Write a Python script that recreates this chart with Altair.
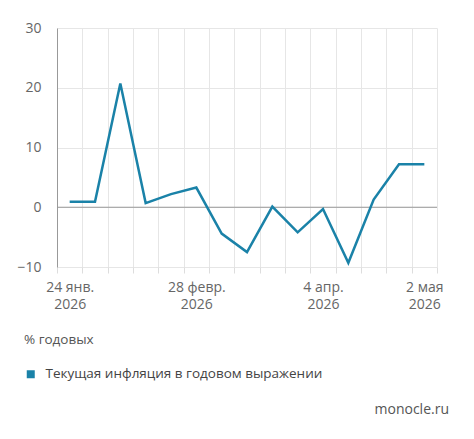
import altair as alt
import pandas as pd

dates = ["2026-01-24", "2026-01-31", "2026-02-07", "2026-02-14", "2026-02-21",
         "2026-02-28", "2026-03-07", "2026-03-14", "2026-03-21", "2026-03-28",
         "2026-04-04", "2026-04-11", "2026-04-18", "2026-04-25", "2026-05-02"]
values = [0.9, 0.9, 20.7, 0.7, 2.2, 3.3, -4.4, -7.5, 0.1, -4.2, -0.3, -9.3, 1.3, 7.2, 7.2]
label_dates = ["2026-01-24", "2026-02-28", "2026-04-04", "2026-05-02"]
label_texts = [["24 янв.", "2026"], ["28 февр.", "2026"], ["4 апр.", "2026"], ["2 мая", "2026"]]
y_ticks = [-10, 0, 10, 20, 30]
series_name = "Текущая инфляция в годовом выражении"
unit_text = "% годовых"
source_text = "monocle.ru"

df = pd.DataFrame({"date": dates, "value": values, "series": series_name})

expr = "''"
for d, t in zip(reversed(label_dates), reversed(label_texts)):
    expr = f"datum.value == '{d}' ? ['{t[0]}', '{t[1]}'] : ({expr})"

FONT = "Open Sans"
BLUE = "#1a82a8"

base = alt.Chart(df)

line = base.mark_line(strokeWidth=2.5).encode(
    x=alt.X("date:O", sort=dates, title=None,
            scale=alt.Scale(paddingInner=0, paddingOuter=0),
            axis=alt.Axis(tickBand="extent", grid=True, gridColor="#e6e6e6",
                          ticks=True, tickColor="#dddddd", tickSize=6,
                          domain=False, labelAngle=0, labelExpr=expr,
                          labelOverlap=False, labelPadding=7,
                          labelColor="#666666", labelFontSize=14,
                          labelLineHeight=17, labelFont=FONT)),
    y=alt.Y("value:Q", title=None,
            scale=alt.Scale(domain=[-10, 30], nice=False),
            axis=alt.Axis(values=y_ticks, grid=True, gridColor="#e6e6e6",
                          ticks=False, domain=True, domainColor="#999999",
                          labelPadding=16, labelColor="#666666",
                          labelFontSize=14, labelFont=FONT)),
    color=alt.Color("series:N", scale=alt.Scale(range=[BLUE]),
                    legend=alt.Legend(orient="none", legendX=-33, legendY=305,
                                      title=unit_text, titleFont=FONT,
                                      titleFontSize=13.5, titleFontWeight="normal",
                                      titleColor="#555555", titlePadding=21,
                                      labelFont=FONT, labelFontSize=13.5,
                                      labelColor="#444444", symbolType="square",
                                      symbolSize=64, symbolFillColor=BLUE,
                                      symbolStrokeColor=BLUE, symbolStrokeWidth=0,
                                      labelOffset=8, labelLimit=400)),
)

zero = alt.Chart(pd.DataFrame({"y": [0]})).mark_rule(color="#999999", strokeWidth=1.2).encode(
    y="y:Q"
)

source = alt.Chart(pd.DataFrame({"t": [source_text]})).mark_text(
    align="right", baseline="middle", font=FONT, fontSize=14, color="#555555"
).encode(text="t:N", x=alt.value(392), y=alt.value(382))

chart = alt.layer(zero, line, source).properties(
    width=380, height=239,
    autosize=alt.AutoSizeParams(type="none"),
    padding={"left": 49, "top": 20, "right": 29, "bottom": 164},
).configure_view(stroke=None)

chart.save("out.html", embed_options={"renderer": "svg", "actions": False})
